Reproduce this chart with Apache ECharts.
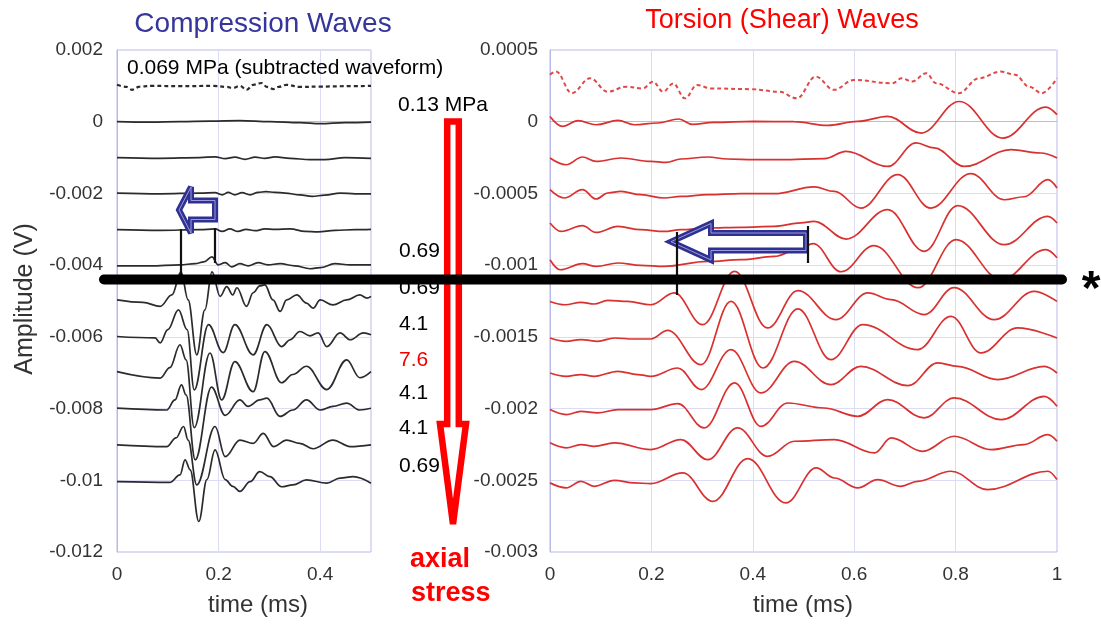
<!DOCTYPE html>
<html><head><meta charset="utf-8">
<script src="https://cdn.jsdelivr.net/npm/echarts@6/dist/echarts.min.js"></script>
<style>html,body{margin:0;padding:0;background:#fff}#c{width:1101px;height:626px}</style>
</head><body><div id="c"></div>
<script>
// ---------- Compression waves (time ms, amplitude in 1e-4 V) ----------
const compDashed = [[0,10.3],[0.019,9.7],[0.029,8.9],[0.045,9.8],[0.071,10.0],[0.124,9.9],[0.189,10.0],[0.216,9.7],[0.228,9.4],[0.242,10.0],[0.255,8.9],[0.268,10.3],[0.285,10.8],[0.295,9.7],[0.308,9.1],[0.318,9.7],[0.334,10.3],[0.360,9.7],[0.400,9.8],[0.449,9.9],[0.5,10.0]];
const comp0 = [[0,0],[0.065,-0.14],[0.124,0],[0.183,0.14],[0.242,0.28],[0.301,0],[0.360,-0.28],[0.400,-0.56],[0.449,-0.28],[0.5,-0.14]];
const comp1 = [[0,-10.0],[0.085,-10.2],[0.163,-10.0],[0.193,-9.8],[0.213,-10.3],[0.232,-9.9],[0.252,-10.5],[0.272,-9.9],[0.291,-10.2],[0.311,-9.8],[0.341,-10.2],[0.380,-10.6],[0.409,-10.6],[0.449,-10.0],[0.5,-10.2]];
const comp2 = [[0,-19.9],[0.085,-20.1],[0.163,-19.9],[0.193,-19.8],[0.207,-20.4],[0.219,-19.7],[0.232,-20.4],[0.246,-19.8],[0.262,-20.4],[0.278,-19.7],[0.293,-19.5],[0.311,-19.7],[0.331,-19.9],[0.360,-20.4],[0.384,-20.8],[0.409,-20.5],[0.439,-19.9],[0.469,-20.1],[0.5,-20.1]];
const comp3 = [[0,-30.1],[0.085,-30.3],[0.163,-30.1],[0.193,-29.9],[0.207,-30.6],[0.222,-29.9],[0.238,-30.6],[0.254,-30.0],[0.272,-30.4],[0.291,-29.9],[0.311,-30.0],[0.341,-29.9],[0.370,-30.6],[0.396,-30.7],[0.429,-30.3],[0.469,-30.1],[0.5,-30.0]];
const comp4 = [[0,-40.2],[0.065,-40.2],[0.124,-39.9],[0.154,-39.6],[0.171,-39.1],[0.187,-37.7],[0.199,-39.9],[0.213,-39.3],[0.226,-40.5],[0.242,-39.6],[0.258,-40.2],[0.278,-39.3],[0.297,-39.9],[0.321,-39.6],[0.350,-40.2],[0.380,-41.0],[0.400,-40.7],[0.429,-39.6],[0.459,-39.9],[0.5,-39.9]];
const comp5 = [[0,-49.7],[0.051,-50.4],[0.085,-51.5],[0.108,-48.3],[0.126,-41.9],[0.140,-49.7],[0.157,-65.0],[0.173,-52.5],[0.187,-41.9],[0.203,-48.7],[0.216,-46.0],[0.228,-48.3],[0.236,-46.3],[0.255,-51.5],[0.268,-47.7],[0.281,-45.8],[0.291,-45.5],[0.307,-49.7],[0.321,-52.9],[0.334,-49.7],[0.354,-48.3],[0.373,-50.6],[0.386,-52.0],[0.400,-49.7],[0.425,-51.1],[0.452,-49.7],[0.478,-48.3],[0.492,-49.2],[0.5,-48.7]];
const comp6 = [[0,-59.9],[0.075,-60.3],[0.085,-61.7],[0.100,-58.0],[0.121,-52.5],[0.138,-58.0],[0.152,-74.8],[0.180,-56.6],[0.209,-64.4],[0.232,-56.6],[0.268,-65.0],[0.295,-56.6],[0.324,-62.7],[0.341,-60.8],[0.360,-58.5],[0.380,-59.7],[0.396,-58.9],[0.413,-62.7],[0.439,-58.9],[0.459,-60.8],[0.485,-58.9],[0.5,-59.4]];
const comp7 = [[0,-69.7],[0.085,-71.5],[0.104,-68.6],[0.124,-62.2],[0.136,-66.4],[0.152,-85.3],[0.183,-64.5],[0.206,-77.6],[0.232,-66.9],[0.268,-75.3],[0.291,-64.1],[0.324,-72.8],[0.346,-70.5],[0.373,-68.2],[0.413,-74.7],[0.452,-66.4],[0.478,-71.4],[0.5,-69.7]];
const comp8 = [[0,-79.9],[0.098,-80.4],[0.114,-77.6],[0.127,-73.4],[0.136,-76.2],[0.154,-94.3],[0.186,-74.0],[0.213,-81.9],[0.242,-77.6],[0.258,-79.4],[0.281,-77.6],[0.295,-77.1],[0.321,-82.2],[0.346,-80.4],[0.373,-77.6],[0.400,-80.4],[0.425,-79.4],[0.452,-78.5],[0.478,-80.4],[0.5,-79.9]];
const comp9 = [[0,-90.1],[0.098,-90.6],[0.116,-88.2],[0.131,-85.0],[0.140,-88.8],[0.157,-101.3],[0.193,-85.0],[0.213,-93.4],[0.242,-88.8],[0.268,-89.7],[0.288,-86.9],[0.308,-90.6],[0.334,-88.8],[0.360,-89.7],[0.386,-91.2],[0.425,-88.8],[0.459,-90.6],[0.5,-90.1]];
const comp10 = [[0,-100.4],[0.104,-100.6],[0.124,-98.5],[0.134,-94.3],[0.144,-97.1],[0.161,-111.5],[0.177,-99.8],[0.193,-91.5],[0.213,-99.8],[0.228,-101.7],[0.242,-103.1],[0.262,-100.4],[0.281,-97.6],[0.301,-99.0],[0.324,-101.8],[0.346,-101.3],[0.373,-99.9],[0.413,-100.8],[0.439,-99.4],[0.465,-99.0],[0.5,-100.8]];

// ---------- Torsion waves (time ms, amplitude in 1e-5 V) ----------
const torsDashed = [[0,32.8],[0.012,35.0],[0.043,19.9],[0.079,30.3],[0.114,20.9],[0.150,24.4],[0.183,23.2],[0.203,27.9],[0.223,20.9],[0.243,26.7],[0.266,16.3],[0.290,25.6],[0.318,23.2],[0.396,22.7],[0.452,20.9],[0.487,16.3],[0.524,31.5],[0.560,22.2],[0.599,29.1],[0.675,26.8],[0.694,30.3],[0.714,28.0],[0.742,33.8],[0.762,26.8],[0.806,19.9],[0.846,30.3],[0.889,35.0],[0.917,32.8],[0.945,24.5],[0.970,19.9],[1.0,30.3]];
const tors0 = [[0,3.7],[0.025,-3.3],[0.055,0.7],[0.091,-2.1],[0.134,0.9],[0.166,-2.1],[0.212,-0.9],[0.254,1.9],[0.281,-1.9],[0.323,-0.5],[0.402,0.2],[0.481,0],[0.548,-2.6],[0.607,0.2],[0.666,3.7],[0.732,-7.9],[0.807,14.1],[0.893,-11.4],[0.978,10.2],[1.0,4.9]];
const tors1 = [[0,-25.3],[0.032,-30.0],[0.064,-24.6],[0.091,-27.7],[0.140,-25.3],[0.199,-27.7],[0.229,-28.4],[0.258,-26.0],[0.311,-24.6],[0.350,-26.0],[0.402,-26.5],[0.456,-26.5],[0.541,-25.8],[0.584,-20.7],[0.666,-31.2],[0.722,-14.8],[0.758,-18.3],[0.817,-31.2],[0.909,-19.5],[0.968,-21.8],[1.0,-25.3]];
const tors2 = [[0,-47.4],[0.028,-53.2],[0.064,-47.4],[0.091,-53.9],[0.114,-49.7],[0.140,-48.6],[0.179,-50.9],[0.225,-53.2],[0.258,-52.1],[0.311,-50.9],[0.377,-50.2],[0.442,-50.2],[0.521,-45.5],[0.561,-48.6],[0.613,-60.2],[0.686,-36.9],[0.751,-60.2],[0.830,-36.2],[0.896,-54.4],[0.935,-52.3],[0.982,-40.4],[1.0,-46.2]];
const tors3 = [[0,-70.6],[0.022,-76.5],[0.064,-72.5],[0.091,-77.2],[0.134,-73.0],[0.179,-75.3],[0.225,-76.5],[0.258,-75.3],[0.311,-74.1],[0.377,-73.6],[0.442,-73.0],[0.495,-70.6],[0.521,-69.5],[0.584,-81.8],[0.666,-61.3],[0.738,-90.4],[0.804,-58.5],[0.896,-85.7],[0.982,-66.0],[1.0,-70.6]];
const tors4 = [[0,-96.2],[0.020,-103.2],[0.064,-99.0],[0.091,-100.9],[0.134,-98.5],[0.179,-100.2],[0.225,-100.9],[0.311,-97.4],[0.377,-96.2],[0.442,-93.9],[0.495,-88.0],[0.519,-85.0],[0.574,-104.6],[0.639,-86.4],[0.726,-115.7],[0.801,-82.2],[0.890,-110.1],[0.978,-89.2],[1.0,-94.8]];
const tors5 = [[0,-125.3],[0.030,-127.6],[0.061,-125.9],[0.087,-127.1],[0.114,-124.6],[0.153,-125.3],[0.199,-127.6],[0.245,-119.4],[0.301,-141.5],[0.364,-104.3],[0.429,-143.8],[0.489,-117.8],[0.564,-138.0],[0.627,-119.4],[0.673,-124.1],[0.738,-134.5],[0.797,-115.7],[0.876,-138.0],[0.955,-118.3],[1.0,-125.3]];
const tors6 = [[0,-150.8],[0.032,-153.1],[0.061,-151.9],[0.094,-153.1],[0.127,-150.8],[0.166,-151.5],[0.199,-151.5],[0.232,-145.5],[0.298,-169.4],[0.357,-125.3],[0.420,-171.7],[0.489,-130.5],[0.554,-165.9],[0.617,-141.5],[0.725,-158.9],[0.791,-135.7],[0.850,-161.2],[0.922,-143.8],[1.0,-150.8]];
const tors7 = [[0,-175.2],[0.032,-177.5],[0.061,-176.3],[0.087,-177.5],[0.134,-174.0],[0.173,-176.3],[0.199,-177.5],[0.252,-171.7],[0.298,-186.8],[0.357,-158.9],[0.416,-189.1],[0.482,-167.1],[0.554,-183.3],[0.613,-170.6],[0.706,-184.0],[0.765,-168.2],[0.804,-170.6],[0.883,-179.8],[0.975,-170.6],[1.0,-175.2]];
const tors8 = [[0,-200.7],[0.032,-204.2],[0.061,-201.9],[0.094,-203.0],[0.134,-200.7],[0.199,-200.7],[0.252,-196.6],[0.304,-213.5],[0.364,-182.1],[0.416,-212.4],[0.469,-196.1],[0.540,-199.6],[0.607,-205.4],[0.666,-193.8],[0.738,-206.5],[0.797,-192.6],[0.890,-207.7],[0.975,-191.5],[1.0,-198.4]];
const tors9 = [[0,-223.9],[0.032,-227.4],[0.061,-225.1],[0.087,-226.3],[0.127,-223.9],[0.199,-228.6],[0.258,-221.6],[0.311,-235.6],[0.370,-213.5],[0.429,-233.3],[0.482,-222.8],[0.561,-221.6],[0.640,-230.9],[0.673,-220.5],[0.735,-229.8],[0.797,-219.3],[0.870,-228.6],[0.935,-225.1],[0.982,-218.2],[1.0,-222.8]];
const tors10 = [[0,-251.8],[0.032,-255.3],[0.061,-250.7],[0.087,-254.2],[0.127,-250.0],[0.166,-251.8],[0.199,-252.3],[0.262,-244.9],[0.321,-264.7],[0.390,-234.9],[0.465,-265.8],[0.525,-241.4],[0.561,-248.4],[0.607,-255.3],[0.646,-249.5],[0.692,-254.2],[0.725,-250.7],[0.791,-243.7],[0.863,-256.5],[0.982,-243.7],[1.0,-249.5]];

// ---------- labels ----------
const stressLabels = [['0.69',251,'#000'],['0.69',288,'#000'],['4.1',324,'#000'],['7.6',360,'#e00'],['4.1',393,'#000'],['4.1',428,'#000'],['0.69',466,'#000']];

const UNIT_COMP = 1e-4, UNIT_TORS = 1e-5;
const FONT = '"Liberation Sans", Arial, sans-serif';
const borderC = '#b9b9e8', gridC = '#dcdcf4';

function mk(data, unit, idx, color, width, dashed) {
  return {
    type: 'line', xAxisIndex: idx, yAxisIndex: idx,
    data: data.map(p => [p[0], p[1] * unit]),
    showSymbol: false, symbol: 'none', smooth: 0.38, smoothMonotone: 'x',
    lineStyle: { color: color, width: width, type: dashed ? [4, 3] : 'solid' },
    silent: true, animation: false, z: 3
  };
}
const compSolid = [comp0, comp1, comp2, comp3, comp4, comp5, comp6, comp7, comp8, comp9, comp10];
const torsSolid = [tors0, tors1, tors2, tors3, tors4, tors5, tors6, tors7, tors8, tors9, tors10];
const series = [];
series.push(mk(compDashed, UNIT_COMP, 0, '#2b2b2b', 2.2, true));
compSolid.forEach(d => series.push(mk(d, UNIT_COMP, 0, '#2b2b2b', 1.7, false)));
series.push(mk(torsDashed, UNIT_TORS, 1, '#e04848', 2, true));
torsSolid.forEach(d => series.push(mk(d, UNIT_TORS, 1, '#d93030', 1.7, false)));

function xAx(gi, max) {
  return { gridIndex: gi, type: 'value', min: 0, max: max, interval: 0.2,
    axisLine: { show: true, lineStyle: { color: borderC } }, axisTick: { show: false },
    splitLine: { show: true, lineStyle: { color: gridC } },
    axisLabel: { showMaxLabel: max === 1, fontSize: 19, color: '#333', margin: 13, fontFamily: FONT } };
}
function yAx(gi, min, max, iv, margin) {
  return { gridIndex: gi, type: 'value', min: min, max: max, interval: iv,
    axisLine: { show: true, lineStyle: { color: borderC } }, axisTick: { show: false },
    splitLine: { show: true, lineStyle: { color: gridC } },
    axisLabel: { fontSize: 19, color: '#333', margin: margin, fontFamily: FONT } };
}

const g = [];
function txt(s, x, y, size, color, opts) {
  g.push(Object.assign({ type: 'text', x: x, y: y, z: 50,
    style: Object.assign({ text: s, fontSize: size, fill: color, fontFamily: FONT, textAlign: 'left', textVerticalAlign: 'middle' }, (opts && opts.style) || {}) },
    (opts && opts.el) || {}));
}
// axis names
txt('Amplitude (V)', 25, 299, 25, '#333', { style: { textAlign: 'center' }, el: { rotation: Math.PI / 2 } });
txt('time (ms)', 258, 605, 24, '#333', { style: { textAlign: 'center' } });
txt('time (ms)', 803, 605, 24, '#333', { style: { textAlign: 'center' } });
// annotations
txt('0.069 MPa (subtracted waveform)', 127, 68, 21, '#000');
txt('0.13 MPa', 398, 105, 21, '#000');
stressLabels.forEach(l => txt(l[0], 399, l[1], 21, l[2]));
txt('axial', 410, 560, 27, '#f00', { style: { fontWeight: 'bold' } });
txt('stress', 411, 594, 27, '#f00', { style: { fontWeight: 'bold' } });
txt('*', 1091, 291, 48, '#000', { style: { textAlign: 'center', fontWeight: 'bold' } });

// red hollow arrow
const redArrow = [[447.2,121.5],[458.8,121.5],[458.8,424],[466,424],[453,524],[440,424],[447.2,424]];
g.push({ type: 'polygon', z: 60, shape: { points: redArrow }, style: { fill: '#fff', stroke: '#f00', lineWidth: 6.5, lineJoin: 'miter', miterLimit: 3 } });
// blue hollow arrows
const blueL = [[179,210],[191,187],[191,200.5],[215,200.5],[215,219.5],[191,219.5],[191,233]];
const blueR = [[671,241.7],[711,223.5],[711,233],[806,233],[806,250.5],[711,250.5],[711,260]];
[blueL, blueR].forEach(p => {
  g.push({ type: 'polygon', z: 60, shape: { points: p }, style: { fill: '#fff', stroke: '#2e3192', lineWidth: 6, lineJoin: 'miter', miterLimit: 3 } });
  g.push({ type: 'polygon', z: 61, shape: { points: p }, style: { fill: 'none', stroke: '#9b9bd8', lineWidth: 1, lineJoin: 'miter', miterLimit: 3 } });
});
// marker lines
[[181,229,275],[215,228,263],[677,232,295],[808,226,263]].forEach(l => {
  g.push({ type: 'line', z: 70, shape: { x1: l[0], y1: l[1], x2: l[0], y2: l[2] }, style: { stroke: '#111', lineWidth: 2.2 } });
});
// thick black bar
g.push({ type: 'line', z: 80, shape: { x1: 104, y1: 279.5, x2: 1062, y2: 279.5 }, style: { stroke: '#000', lineWidth: 10, lineCap: 'round' } });

const chart = echarts.init(document.getElementById('c'), null, { renderer: 'canvas' });
chart.setOption({
  animation: false,
  backgroundColor: '#fff',
  title: [
    { text: 'Compression Waves', left: 258, top: 5, textAlign: 'center', textStyle: { fontSize: 28, fontWeight: 'normal', color: '#35359c', fontFamily: FONT } },
    { text: 'Torsion (Shear) Waves', left: 777, top: 2, textAlign: 'center', textStyle: { fontSize: 27, fontWeight: 'normal', color: '#f00', fontFamily: FONT } }
  ],
  grid: [
    { left: 117, top: 50, width: 254, height: 502, show: true, borderColor: borderC, borderWidth: 1, backgroundColor: 'transparent' },
    { left: 550, top: 50, width: 507, height: 502, show: true, borderColor: borderC, borderWidth: 1, backgroundColor: 'transparent' }
  ],
  xAxis: [xAx(0, 0.5), xAx(1, 1)],
  yAxis: [yAx(0, -0.012, 0.002, 0.002, 14), yAx(1, -0.003, 0.0005, 0.0005, 12)],
  series: series,
  graphic: g
});
</script></body></html>
